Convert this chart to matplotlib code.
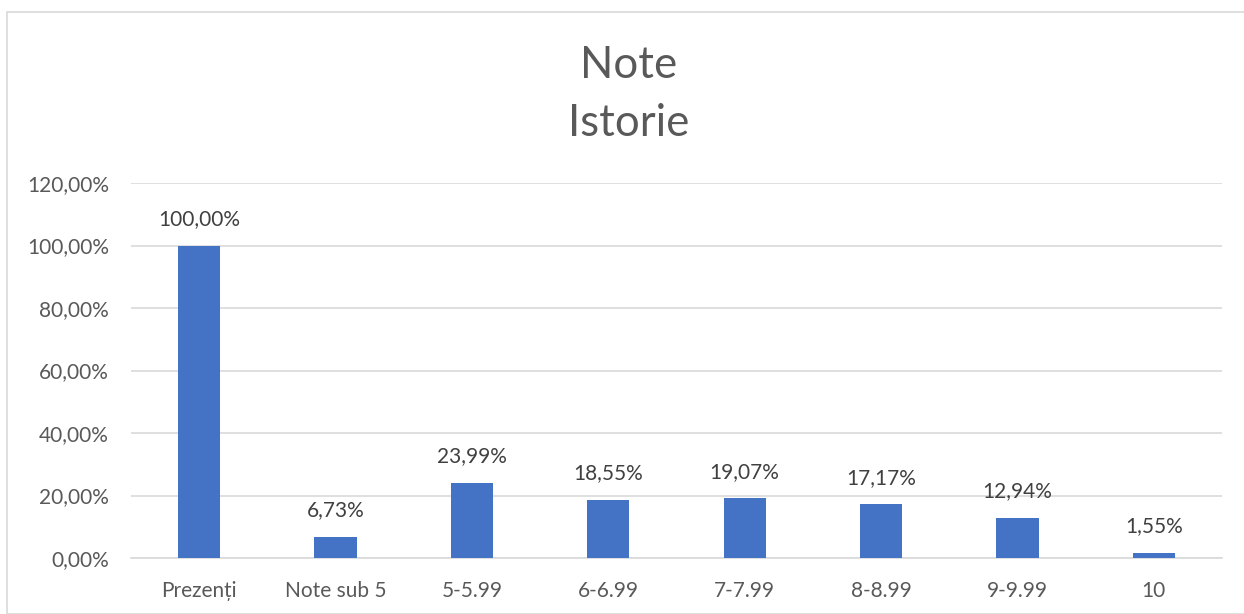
import matplotlib
matplotlib.use("Agg")
import matplotlib.pyplot as plt
from matplotlib.patches import Rectangle
from matplotlib.ticker import FuncFormatter

categories = ["Prezenți", "Note sub 5", "5-5.99", "6-6.99", "7-7.99", "8-8.99", "9-9.99", "10"]
values = [100.00, 6.73, 23.99, 18.55, 19.07, 17.17, 12.94, 1.55]
title_lines = ["Note", "Istorie"]

plt.rcParams['font.family'] = ['Lato', 'DejaVu Sans']
txt = '#595959'

W, H = 1244, 614
fig = plt.figure(figsize=(W/100, H/100), dpi=100)
fig.patches.append(Rectangle((7/W, 0), 1.0, 1 - 12/H, transform=fig.transFigure,
                             fill=False, edgecolor='#d9d9d9', linewidth=1.2))

left, right, bottom, top = 131/W, 1222/W, 1 - 558/H, 1 - 183/H
ax = fig.add_axes([left, bottom, right - left, top - bottom])
x = range(len(categories))
ax.bar(x, values, width=0.31, color='#4472c4', zorder=3)
ax.set_xlim(-0.5, len(categories) - 0.5)
ax.set_ylim(0, 120)
ax.set_yticks(range(0, 121, 20))
ax.yaxis.set_major_formatter(FuncFormatter(lambda v, p: f"{v:.2f}%".replace('.', ',')))
ax.set_xticks(list(x))
ax.set_xticklabels(categories)
ax.grid(axis='y', color='#d9d9d9', linewidth=1.2, zorder=0)
for s in ['top', 'right', 'left']:
    ax.spines[s].set_visible(False)
ax.spines['bottom'].set_color('#d9d9d9')
ax.spines['bottom'].set_linewidth(1.2)
ax.tick_params(axis='both', length=0, labelsize=15, labelcolor=txt)
ax.tick_params(axis='y', pad=16)
ax.tick_params(axis='x', pad=16.5)
for i, v in enumerate(values):
    ax.annotate(f"{v:.2f}%".replace('.', ','), (i, v), xytext=(0, 12), textcoords='offset points',
                ha='center', va='bottom', fontsize=15, color='#404040')

fig.text(629/W, 1 - 65/H, title_lines[0], ha='center', va='center', fontsize=31.5, color=txt)
fig.text(629/W, 1 - 124/H, title_lines[1], ha='center', va='center', fontsize=31.5, color=txt)

fig.savefig("out.png", dpi=100)
